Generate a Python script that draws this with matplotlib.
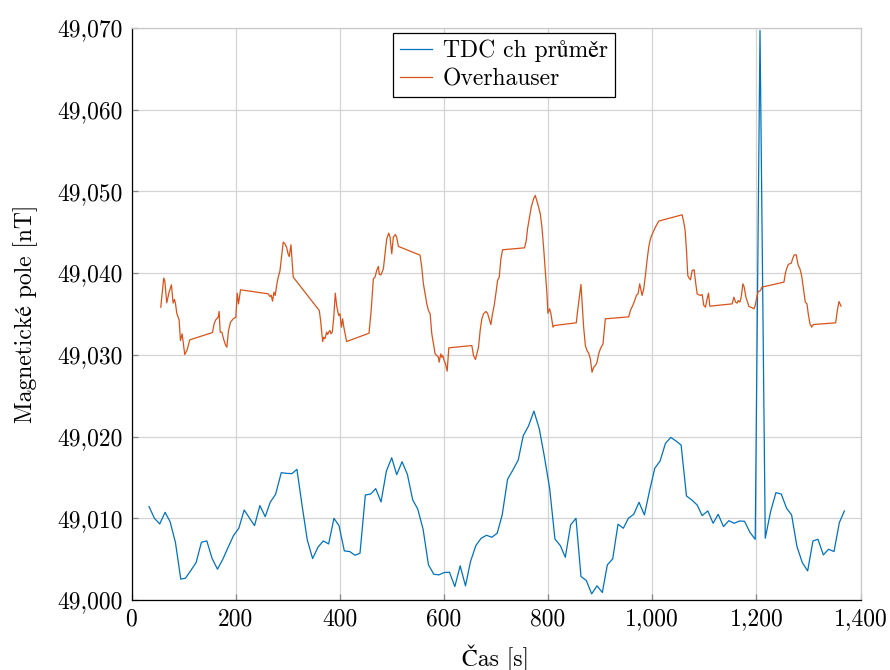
import matplotlib
matplotlib.use("Agg")
import matplotlib.pyplot as plt
from matplotlib.ticker import FuncFormatter, MultipleLocator

# TDC channel average, sampled roughly every 10 s
tdc_time = [
    33.7, 44.0, 54.2, 64.5, 74.1, 84.4, 94.6, 103.6, 113.8, 124.1, 134.3, 144.6,
    154.9, 165.1, 175.4, 185.6, 195.9, 206.1, 216.4, 226.0, 236.3, 246.5, 256.8,
    266.4, 276.7, 287.6, 297.8, 308.1, 317.7, 327.9, 337.6, 347.8, 358.1, 368.3,
    378.6, 388.8, 398.5, 408.7, 419.0, 429.2, 438.8, 449.1, 459.4, 469.0, 479.2,
    489.5, 499.7, 509.3, 519.6, 529.8, 540.1, 549.7, 560.0, 570.3, 580.5, 590.1,
    600.4, 610.6, 620.9, 631.2, 641.4, 651.0, 661.3, 671.5, 681.8, 692.0, 702.3,
    711.9, 722.2, 732.4, 742.7, 752.3, 762.6, 772.8, 783.1, 792.7, 803.0, 813.2,
    823.5, 833.1, 843.3, 853.6, 863.2, 873.5, 883.7, 894.0, 904.2, 913.8, 924.1,
    934.3, 944.6, 954.2, 964.5, 974.7, 985.0, 995.2, 1004.9, 1015.1, 1025.4,
    1035.6, 1045.9, 1055.5, 1065.8, 1076.0, 1086.3, 1095.9, 1106.8, 1117.0,
    1126.7, 1136.9, 1147.2, 1157.4, 1167.7, 1177.3, 1187.6, 1197.8, 1207.0,
    1217.1, 1227.3, 1237.6, 1247.8, 1258.1, 1267.7, 1278.0, 1288.2, 1298.5,
    1308.7, 1318.3, 1328.6, 1338.8, 1349.1, 1359.4, 1369.0,
]
tdc_field = [
    49011.43, 49010.00, 49009.31, 49010.73, 49009.59, 49007.03, 49002.55, 49002.67,
    49003.60, 49004.58, 49007.07, 49007.23, 49005.07, 49003.77, 49004.99, 49006.46,
    49007.88, 49008.78, 49011.02, 49010.08, 49009.10, 49011.55, 49010.20, 49011.96,
    49012.93,
    49015.58, 49015.50, 49015.46, 49015.99, 49011.43, 49007.35, 49005.07, 49006.46,
    49007.23, 49006.86, 49010.00, 49009.10, 49006.01, 49005.93, 49005.48, 49005.72,
    49012.85, 49012.97, 49013.63, 49012.00, 49015.78, 49017.41, 49015.34, 49016.92,
    49015.38, 49012.24, 49011.14,
    49008.65, 49004.30, 49003.16, 49003.07, 49003.36, 49003.40, 49001.65, 49004.18,
    49001.73, 49004.70, 49006.66, 49007.56, 49007.92, 49007.68, 49008.17, 49010.41,
    49014.77, 49015.91, 49017.13, 49020.10, 49021.32, 49023.12, 49020.96, 49017.62,
    49013.67, 49007.47, 49006.66,
    49005.23, 49009.19, 49010.00, 49002.87, 49002.38, 49000.75, 49001.73, 49000.92,
    49004.30, 49005.03, 49009.27, 49008.78, 49010.00, 49010.49, 49011.96, 49010.41,
    49013.46, 49016.11, 49017.01, 49019.16, 49019.90, 49019.45, 49018.96, 49012.73,
    49012.24, 49011.63, 49010.33,
    49010.90, 49009.39, 49010.49, 49008.98, 49009.71, 49009.39, 49009.67, 49009.63,
    49008.29, 49007.43, 49069.70, 49007.56, 49010.81, 49013.14, 49012.97, 49011.22,
    49010.41, 49006.54, 49004.58, 49003.56, 49007.23, 49007.43, 49005.52, 49006.21,
    49005.93, 49009.47, 49010.90,
]

# Overhauser reference magnetometer (with recording gaps)
ovh_time = [
    56.2, 61.9, 63.9, 67.7, 72.2, 76.7, 79.9, 82.4, 84.4, 86.9, 91.4, 94.0, 97.2,
    102.3, 106.8, 111.9, 155.5, 158.7, 161.9, 166.4, 168.3, 170.3, 173.5, 177.3,
    180.5, 183.1, 186.3, 190.1, 195.3, 200.4, 203.0, 205.5, 209.4, 262.6, 265.8,
    268.3, 270.9, 273.5, 276.0, 279.2, 281.8, 285.0, 291.4, 294.6, 297.8, 301.0,
    303.0, 306.2, 308.1, 310.6, 360.6, 363.2, 367.1, 369.0, 371.5, 374.7, 376.7,
    378.6, 381.2, 383.1, 385.6, 388.2, 391.4, 394.0, 397.8, 400.4, 403.0, 405.5,
    407.4, 413.2, 456.1, 460.0, 464.5, 467.7, 470.9, 474.1,
    476.0, 479.2, 483.7, 486.9, 490.1, 494.0, 496.5, 499.8, 502.9, 506.8, 509.4,
    512.6, 554.2, 557.4, 560.6, 563.9, 567.1, 570.3, 573.5, 576.7, 579.9, 583.1,
    586.3, 589.5, 590.8, 594.0, 595.9, 597.8, 600.4, 603.0, 606.2, 609.4, 653.6,
    656.8, 660.6, 663.2, 666.4, 669.6, 672.8, 676.0, 680.5, 683.7, 686.9, 690.1,
    693.3, 696.5, 699.7, 703.0, 706.2, 709.4, 712.6, 754.9, 758.1, 760.6, 764.5,
    767.7, 772.2, 775.4, 778.6, 781.8, 785.0, 788.2, 791.4, 794.6, 797.8, 799.7,
    803.0, 805.5, 809.4, 811.9, 854.2, 856.8, 860.0, 863.2, 865.8, 868.3, 871.6,
    874.8, 878.0, 881.2, 884.4, 887.6, 890.8, 894.0, 897.2, 900.4, 905.5, 910.0,
    954.9, 958.1, 962.6, 966.4, 969.6, 972.8, 976.0, 980.5, 983.7, 986.9, 990.1,
    993.3, 996.5, 1001.7, 1006.2, 1012.6, 1057.4, 1060.6, 1063.2, 1065.8, 1068.3,
    1070.9, 1073.5, 1076.7, 1080.5, 1083.7, 1086.3, 1089.5,
    1092.7, 1095.9, 1099.1, 1102.3, 1105.5, 1108.1, 1110.6, 1153.6, 1156.8,
    1160.0, 1163.2, 1165.1, 1168.3, 1170.9, 1174.1, 1176.7, 1179.9, 1183.1,
    1185.6, 1188.8, 1192.1, 1195.3, 1197.8, 1200.4, 1202.9, 1205.5, 1208.1,
    1210.6, 1253.0, 1255.5, 1258.1, 1261.3, 1263.8, 1267.1, 1269.6, 1272.8,
    1276.7, 1278.6, 1280.5, 1283.7, 1286.9, 1290.8, 1294.0, 1297.2, 1299.7,
    1302.9, 1306.2, 1309.4, 1352.3, 1355.5, 1358.7, 1360.6, 1362.6,
]
ovh_field = [
    49035.84, 49039.39, 49039.10, 49036.37, 49037.67, 49038.57, 49036.33, 49036.78,
    49036.33, 49035.10, 49034.29, 49031.76, 49032.57, 49030.04, 49030.61, 49031.84,
    49032.73, 49033.80, 49034.29, 49034.61, 49035.31, 49032.78, 49032.78, 49031.84,
    49031.22, 49030.94, 49032.98, 49034.00, 49034.41, 49034.61, 49037.55, 49036.24,
    49037.96, 49037.47, 49037.14, 49037.31, 49036.57, 49037.67, 49037.27, 49038.69,
    49039.51, 49040.24, 49043.80, 49043.59, 49043.18, 49042.29, 49042.04, 49043.47,
    49041.76, 49039.51, 49035.43, 49034.20, 49031.63, 49032.16, 49031.96, 49032.78,
    49032.49, 49032.78, 49032.98, 49032.57, 49032.78, 49034.41, 49037.55, 49036.04,
    49034.82, 49035.02, 49033.39, 49034.41, 49033.51, 49031.63, 49032.65, 49035.22,
    49039.31, 49039.51, 49040.33, 49040.82,
    49039.84, 49039.80, 49040.53, 49042.37, 49044.20, 49044.90, 49044.41, 49042.37,
    49044.41, 49044.73, 49044.33, 49043.27, 49042.20, 49040.73, 49038.69, 49037.47,
    49036.24, 49035.43, 49035.02, 49032.57, 49031.35, 49030.12, 49029.92, 49029.71,
    49029.10, 49030.12, 49029.71, 49029.92, 49029.31, 49028.90, 49028.00, 49030.86,
    49031.14, 49029.92, 49029.43, 49030.12, 49030.94, 49032.98, 49034.41, 49035.02,
    49035.31, 49035.10, 49034.41, 49033.71, 49035.02, 49036.04, 49037.47, 49039.10,
    49039.51, 49041.76, 49042.86, 49043.10, 49044.00, 49045.43, 49046.86, 49048.08,
    49049.10, 49049.51, 49048.82, 49048.08, 49047.27, 49045.63, 49043.18, 49040.33,
    49037.47, 49035.10, 49035.63, 49035.02, 49033.39, 49033.59, 49033.92, 49035.43,
    49037.06, 49038.61, 49036.04, 49033.39, 49031.14, 49030.53, 49030.20, 49029.51,
    49027.88, 49028.49, 49028.69, 49029.10, 49030.12, 49030.73, 49031.35, 49034.41,
    49034.65, 49035.43, 49036.04, 49036.65, 49037.27, 49037.47, 49038.69, 49037.27,
    49038.08, 49039.71, 49041.55, 49043.18, 49044.20, 49045.02, 49045.63, 49046.37,
    49047.14, 49046.24, 49045.22, 49042.78, 49039.71, 49039.39, 49039.18, 49040.33,
    49040.41, 49038.69, 49037.47, 49037.35,
    49037.27, 49037.39, 49036.04, 49035.84, 49036.86, 49037.55, 49035.96, 49036.24,
    49037.06, 49036.45, 49036.33, 49036.65, 49036.45, 49037.06, 49038.69, 49038.29,
    49037.06, 49036.45, 49035.92, 49035.84, 49035.76, 49035.63, 49036.04, 49036.86,
    49037.67, 49037.80, 49037.88, 49038.29, 49038.90, 49039.92, 49040.53, 49041.06,
    49041.14, 49041.22, 49041.76, 49042.24, 49042.24, 49041.55, 49040.94, 49040.53,
    49039.71, 49037.88, 49036.45, 49036.24, 49035.02, 49033.80, 49033.39, 49033.71,
    49033.92, 49035.43, 49036.53, 49036.24, 49035.96,
]

series_labels = ["TDC ch průměr", "Overhauser"]
x_label = "Čas [s]"
y_label = "Magnetické pole [nT]"

plt.rcParams["font.family"] = ["cmr10", "STIXGeneral", "DejaVu Serif"]
plt.rcParams["axes.formatter.use_mathtext"] = True
plt.rcParams["mathtext.fontset"] = "cm"

FS = 17.0
BLUE = "#0072BD"
ORANGE = "#D95319"

fig = plt.figure(figsize=(8.9, 6.7), dpi=100)
ax = fig.add_axes([131.5 / 890, 1 - 600 / 670, 729 / 890, 572 / 670])

ax.plot(tdc_time, tdc_field, color=BLUE, lw=0.9, label=series_labels[0])
ax.plot(ovh_time, ovh_field, color=ORANGE, lw=0.9, label=series_labels[1])

ax.set_xlim(0, 1400)
ax.set_ylim(49000, 49070)
ax.xaxis.set_major_locator(MultipleLocator(200))
ax.yaxis.set_major_locator(MultipleLocator(10))
thousands = FuncFormatter(lambda v, p: f"{v:,.0f}")
ax.xaxis.set_major_formatter(thousands)
ax.yaxis.set_major_formatter(thousands)

ax.grid(True, color="#d4d4d4", lw=0.9)
ax.set_axisbelow(True)
for side in ("left", "bottom"):
    ax.spines[side].set_color("black")
    ax.spines[side].set_linewidth(0.9)
for side in ("top", "right"):
    ax.spines[side].set_color("#c8c8c8")
    ax.spines[side].set_linewidth(0.9)

ax.tick_params(direction="in", length=4, width=0.9, color="#888888",
               labelsize=FS, pad=6)

ax.set_xlabel(x_label, fontsize=FS, labelpad=10)
ax.set_ylabel(y_label, fontsize=FS, labelpad=14)

leg = ax.legend(loc="upper center", bbox_to_anchor=(0.511, 0.992),
                fontsize=FS, frameon=True, fancybox=False, framealpha=1,
                edgecolor="black", borderpad=0.3, handlelength=1.35,
                handletextpad=0.45, labelspacing=0.25, borderaxespad=0)
leg.get_frame().set_linewidth(0.9)

fig.savefig("out.png", dpi=100)
